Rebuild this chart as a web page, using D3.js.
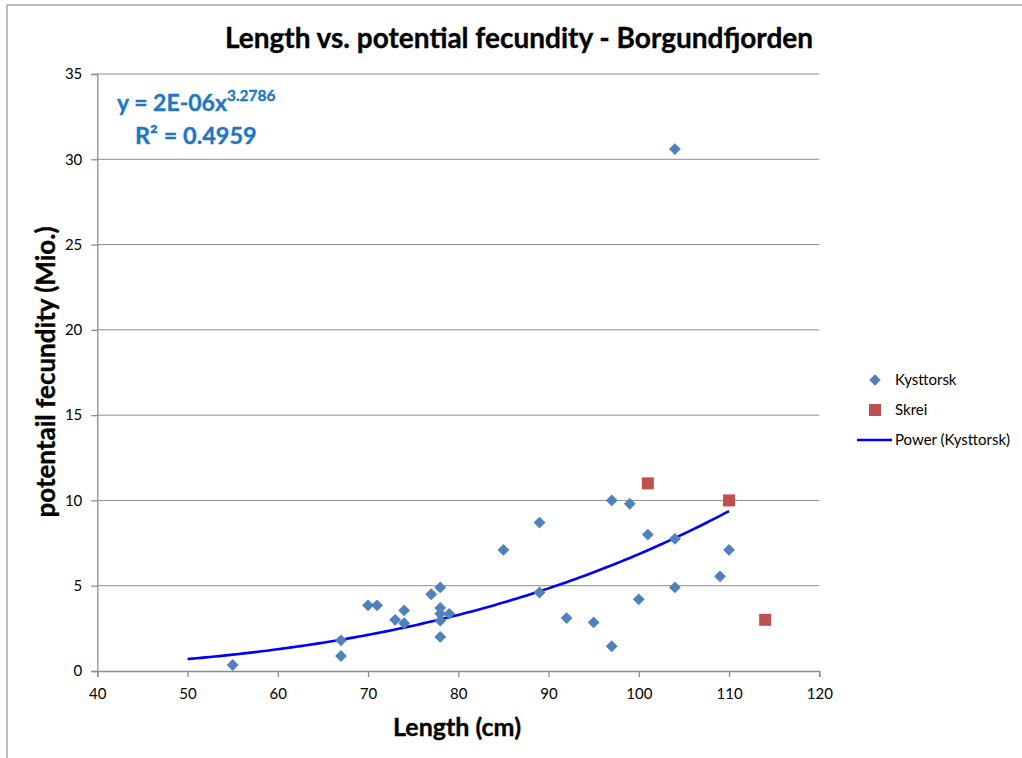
<!DOCTYPE html>
<html>
<head>
<meta charset="utf-8">
<script src="https://cdn.jsdelivr.net/npm/d3@7"></script>
<style>
  html, body { margin: 0; padding: 0; background: #fff; }
  svg { display: block; }
  text { font-family: Lato, "Open Sans", sans-serif; }
  .heavy { stroke-width: 0.35px; paint-order: stroke; }
</style>
</head>
<body>
<script>
// Length (cm) and potential fecundity (millions of eggs)
const kysttorskLength = [55, 67, 67, 70, 71, 73, 74, 74, 77, 78, 78, 78, 78, 78, 79,
                         85, 89, 89, 92, 95, 97, 97, 99, 100, 101, 104, 104, 104, 109, 110];
const kysttorskFecundity = [0.35, 1.8, 0.88, 3.85, 3.85, 3.0, 3.55, 2.8, 4.5, 4.9, 3.7, 3.35, 2.95, 2.0, 3.35,
                            7.1, 8.7, 4.6, 3.1, 2.85, 10.0, 1.45, 9.8, 4.2, 8.0, 7.75, 4.9, 30.6, 5.55, 7.1];
const skreiLength = [101, 110, 114];
const skreiFecundity = [11.0, 10.0, 3.0];

const xTicks = [40, 50, 60, 70, 80, 90, 100, 110, 120];
const yTicks = [0, 5, 10, 15, 20, 25, 30, 35];

const titleText = "Length vs. potential fecundity - Borgundfjorden";
const xLabel = "Length (cm)";
const yLabel = "potentail fecundity (Mio.)";
const legendLabels = ["Kysttorsk", "Skrei", "Power (Kysttorsk)"];
const eqMain = "y = 2E-06x";
const eqExp = "3.2786";
const eqR2 = "R² = 0.4959";

const W = 1022, H = 758;
const svg = d3.select("body").append("svg").attr("width", W).attr("height", H);

// outer chart frame
svg.append("line").attr("x1", 7).attr("x2", 7).attr("y1", 5).attr("y2", H)
  .attr("stroke", "#a6a6a6").attr("stroke-width", 1.5);
svg.append("line").attr("x1", 7).attr("x2", W).attr("y1", 5).attr("y2", 5)
  .attr("stroke", "#a6a6a6").attr("stroke-width", 1.5);

const x = d3.scaleLinear().domain([40, 120]).range([97.3, 819.3]);
const y = d3.scaleLinear().domain([0, 35]).range([671, 74]);

// horizontal gridlines
svg.append("g").selectAll("line").data(yTicks.filter(t => t > 0)).join("line")
  .attr("x1", x(40)).attr("x2", x(120))
  .attr("y1", d => y(d)).attr("y2", d => y(d))
  .attr("stroke", "#8c8c8c").attr("stroke-width", 1);

// axes
const xAxis = svg.append("g").attr("transform", `translate(0,${y(0)})`)
  .call(d3.axisBottom(x).tickValues(xTicks).tickSize(6).tickPadding(11).tickFormat(d3.format("d")));
const yAxis = svg.append("g").attr("transform", `translate(${x(40)},0)`)
  .call(d3.axisLeft(y).tickValues(yTicks).tickSize(6).tickPadding(9).tickFormat(d3.format("d")));
[xAxis, yAxis].forEach(g => {
  g.select(".domain").attr("stroke", "#8c8c8c").attr("stroke-width", 1.3);
  g.selectAll(".tick line").attr("stroke", "#8c8c8c").attr("stroke-width", 1.3);
  g.selectAll(".tick text").attr("fill", "#000").style("font-size", "15px")
    .style("font-family", "Lato, 'Open Sans', sans-serif");
});

// power trend line fitted to Kysttorsk (least squares on log-log)
const lx = kysttorskLength.map(Math.log), ly = kysttorskFecundity.map(Math.log);
const mx = d3.mean(lx), my = d3.mean(ly);
const b = d3.sum(lx.map((v, i) => (v - mx) * (ly[i] - my))) / d3.sum(lx.map(v => (v - mx) ** 2));
const a = Math.exp(my - b * mx);
const trendX = d3.range(50, 110.01, 0.5);
svg.append("path")
  .datum(trendX)
  .attr("fill", "none").attr("stroke", "#0000ff").attr("stroke-width", 2.6)
  .attr("d", d3.line().x(d => x(d)).y(d => y(a * Math.pow(d, b))));

// Kysttorsk diamonds
const diamond = d3.symbol().type(d3.symbolSquare).size(70);
svg.append("g").selectAll("path").data(kysttorskLength).join("path")
  .attr("d", diamond)
  .attr("transform", (d, i) => `translate(${x(d)},${y(kysttorskFecundity[i])}) rotate(45)`)
  .attr("fill", "#4f81bd");

// Skrei squares
svg.append("g").selectAll("rect").data(skreiLength).join("rect")
  .attr("x", d => x(d) - 6).attr("y", (d, i) => y(skreiFecundity[i]) - 6)
  .attr("width", 12).attr("height", 12)
  .attr("fill", "#c0504d");

// title and axis titles
svg.append("text").attr("class", "heavy").attr("stroke", "#000")
  .attr("x", 519).attr("y", 48).attr("text-anchor", "middle")
  .style("font-size", "28px").style("font-weight", "bold").text(titleText);
svg.append("text").attr("class", "heavy").attr("stroke", "#000")
  .attr("x", 457).attr("y", 736).attr("text-anchor", "middle")
  .style("font-size", "25px").style("font-weight", "bold").text(xLabel);
svg.append("text").attr("class", "heavy").attr("stroke", "#000")
  .attr("transform", "translate(55,372) rotate(-90)").attr("text-anchor", "middle")
  .style("font-size", "26px").style("font-weight", "bold").text(yLabel);

// regression equation
const eq = svg.append("text").attr("class", "heavy").attr("stroke", "#1f77c3")
  .attr("x", 117).attr("y", 111).attr("fill", "#1f77c3")
  .style("font-size", "23px").style("font-weight", "bold");
eq.append("tspan").text(eqMain);
eq.append("tspan").attr("dy", -10).style("font-size", "15.5px").text(eqExp);
svg.append("text").attr("class", "heavy").attr("stroke", "#1f77c3")
  .attr("x", 135).attr("y", 144).attr("fill", "#1f77c3")
  .style("font-size", "23.5px").style("font-weight", "bold").text(eqR2);

// legend
const lg = svg.append("g");
lg.append("path").attr("d", d3.symbol().type(d3.symbolSquare).size(64))
  .attr("transform", "translate(875,380) rotate(45)").attr("fill", "#4f81bd");
lg.append("rect").attr("x", 869).attr("y", 404).attr("width", 12).attr("height", 12).attr("fill", "#c0504d");
lg.append("line").attr("x1", 857).attr("x2", 892).attr("y1", 440).attr("y2", 440)
  .attr("stroke", "#0000ff").attr("stroke-width", 2.6);
lg.selectAll("text").data(legendLabels).join("text")
  .attr("x", 895)
  .attr("y", (d, i) => 385 + i * 30)
  .style("font-size", "15px").text(d => d);
</script>
</body>
</html>
